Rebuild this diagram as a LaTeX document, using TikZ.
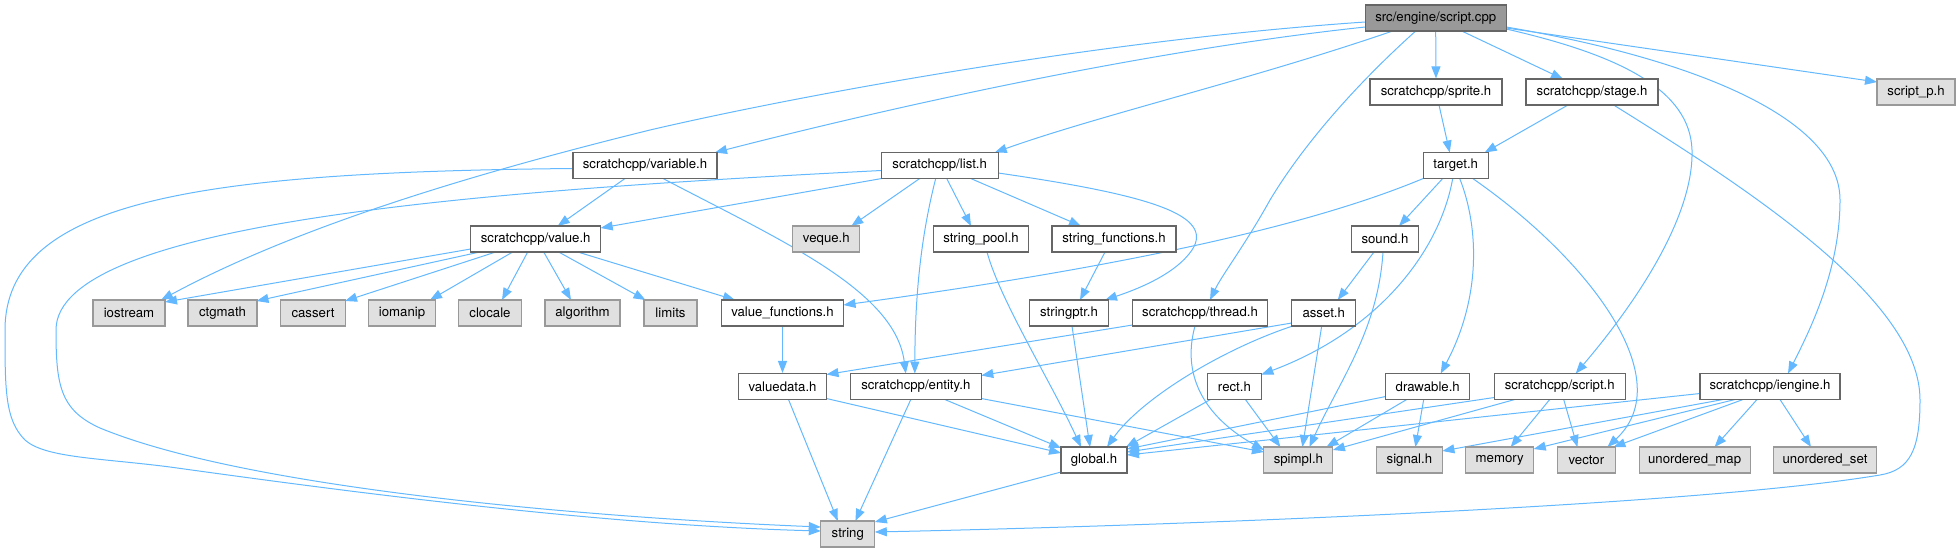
\documentclass[tikz,border=0pt]{standalone}
\usepackage{fontspec}
\setmainfont{TeX Gyre Heros}
\usetikzlibrary{arrows.meta}
\definecolor{edgec}{HTML}{63B8FF}
\definecolor{boxd}{HTML}{666666}
\definecolor{extd}{HTML}{999999}
\definecolor{extf}{HTML}{E0E0E0}
\definecolor{mainf}{HTML}{999999}
\pgfdeclarelayer{bg}
\pgfsetlayers{bg,main}
\tikzset{
  hbox/.style={draw=boxd, fill=white, line width=1.1pt, minimum height=26pt, inner sep=0pt, font=\fontsize{13.2}{15}\selectfont},
  extbox/.style={hbox, draw=extd, fill=extf},
  mainbox/.style={hbox, draw=boxd, fill=mainf},
  e/.style={draw=edgec, line width=1pt, -{Triangle[length=12pt,width=9pt]}}
}
\begin{document}
\begin{tikzpicture}[x=1pt,y=-1pt]
\useasboundingbox (0,0) rectangle (1960,552);
% row 1
\node[mainbox, minimum width=141pt] (sc) at (1435.7,18) {src/engine/script.cpp};
% row 2
\node[hbox, minimum width=132pt] (sprite) at (1436,92) {scratchcpp/sprite.h};
\node[hbox, minimum width=132pt] (stage) at (1592,92) {scratchcpp/stage.h};
\node[extbox, minimum width=78pt] (scriptp) at (1916,92) {script\_p.h};
% row 3
\node[hbox, minimum width=144pt] (variable) at (645,165.5) {scratchcpp/variable.h};
\node[hbox, minimum width=117pt] (list) at (939.7,165.5) {scratchcpp/list.h};
\node[hbox, minimum width=65pt] (target) at (1455.7,165.5) {target.h};
% row 4
\node[hbox, minimum width=130pt] (value) at (535.7,239) {scratchcpp/value.h};
\node[extbox, minimum width=67pt] (veque) at (826.3,239) {veque.h};
\node[hbox, minimum width=95pt] (spool) at (981,239) {string\_pool.h};
\node[hbox, minimum width=124pt] (sfunc) at (1114,239) {string\_functions.h};
\node[hbox, minimum width=67pt] (sound) at (1385,239) {sound.h};
% row 5
\node[extbox, minimum width=72pt] (iostream) at (129,313) {iostream};
\node[extbox, minimum width=69pt] (ctgmath) at (222.5,313) {ctgmath};
\node[extbox, minimum width=65pt] (cassert) at (313,313) {cassert};
\node[extbox, minimum width=67pt] (iomanip) at (402,313) {iomanip};
\node[extbox, minimum width=63pt] (clocale) at (490,313) {clocale};
\node[extbox, minimum width=75pt] (algorithm) at (582.5,313) {algorithm};
\node[extbox, minimum width=53pt] (limits) at (670.5,313) {limits};
\node[hbox, minimum width=122pt] (vfunc) at (782.5,313) {value\_functions.h};
\node[hbox, minimum width=79pt] (sptr) at (1069,313) {stringptr.h};
\node[hbox, minimum width=135pt] (thread) at (1200,313) {scratchcpp/thread.h};
\node[hbox, minimum width=64pt] (asset) at (1323.7,313) {asset.h};
% row 6
\node[hbox, minimum width=88pt] (vdata) at (782.5,386.5) {valuedata.h};
\node[hbox, minimum width=131pt] (entity) at (915.8,386.5) {scratchcpp/entity.h};
\node[hbox, minimum width=54pt] (rect) at (1234.4,386.5) {rect.h};
\node[hbox, minimum width=84pt] (drawable) at (1427.7,386.5) {drawable.h};
\node[hbox, minimum width=131pt] (scripth) at (1559.7,386.5) {scratchcpp/script.h};
\node[hbox, minimum width=140pt] (iengine) at (1770,386.5) {scratchcpp/iengine.h};
% row 7
\node[hbox, minimum width=66pt] (global) at (1094,460) {global.h};
\node[extbox, minimum width=69pt] (spimpl) at (1298.4,460) {spimpl.h};
\node[extbox, minimum width=66pt] (signal) at (1409.4,460) {signal.h};
\node[extbox, minimum width=68pt] (memory) at (1499.7,460) {memory};
\node[extbox, minimum width=58pt] (vector) at (1586.4,460) {vector};
\node[extbox, minimum width=111pt] (umap) at (1694.6,460) {unordered\_map};
\node[extbox, minimum width=103pt] (uset) at (1825,460) {unordered\_set};
% row 8
\node[extbox, minimum width=54pt] (string) at (847.8,534) {string};

\begin{pgfonlayer}{bg}
% script.cpp
\draw[e] (sc.south) -- (sprite.north);
\draw[e] ([shift={(26,13)}]sc.center) -- ([shift={(-29,-13)}]stage.center);
\draw[e] ([shift={(70.5,10)}]sc.center) -- ([shift={(-39,-10)}]scriptp.center);
\draw[e] ([shift={(70.5,11)}]sc.center) .. controls (1620,55) and (1690,90) .. (1692,150) .. controls (1694,220) and (1630,310) .. ([shift={(16,-13)}]scripth.center);
\draw[e] ([shift={(70.5,9)}]sc.center) .. controls (1700,60) and (1840,120) .. (1840,200) .. controls (1840,270) and (1810,330) .. ([shift={(18,-13)}]iengine.center);
\draw[e] ([shift={(-20,13)}]sc.center) .. controls (1350,90) and (1300,150) .. (1270,200) .. controls (1245,245) and (1222,275) .. ([shift={(10,-13)}]thread.center);
\draw[e] ([shift={(-43,13)}]sc.center) .. controls (1250,80) and (1100,115) .. ([shift={(55,-13)}]list.center);
\draw[e] ([shift={(-70.5,9)}]sc.center) .. controls (1150,50) and (900,105) .. ([shift={(70,-13)}]variable.center);
\draw[e] ([shift={(-70.5,4)}]sc.center) .. controls (1100,40) and (800,95) .. (650,130) .. controls (480,172) and (300,225) .. ([shift={(32,-13)}]iostream.center);
% variable.h
\draw[e] ([shift={(-72,3)}]variable.center) .. controls (200,172) and (5,200) .. (5,330) .. controls (5,390) and (5,420) .. (25,440) .. controls (45,458) and (100,458) .. (170,467) .. controls (350,492) and (600,525) .. ([shift={(-27,-3)}]string.center);
\draw[e] ([shift={(-20,13)}]variable.center) -- ([shift={(22,-13)}]value.center);
\draw[e] ([shift={(18,13)}]variable.center) .. controls (780,240) and (895,290) .. ([shift={(-10,-13)}]entity.center);
% list.h
\draw[e] ([shift={(-58.5,5)}]list.center) .. controls (500,190) and (56,220) .. (56,330) .. controls (56,385) and (60,410) .. (100,428) .. controls (250,490) and (600,518) .. ([shift={(-27,-7)}]string.center);
\draw[e] ([shift={(-58,13)}]list.center) -- ([shift={(65,-11)}]value.center);
\draw[e] ([shift={(-20,13)}]list.center) -- ([shift={(25,-13)}]veque.center);
\draw[e] ([shift={(7,13)}]list.center) -- ([shift={(-10,-13)}]spool.center);
\draw[e] ([shift={(31,13)}]list.center) -- ([shift={(-33,-13)}]sfunc.center);
\draw[e] ([shift={(-4,13)}]list.center) .. controls (920,240) and (915,300) .. ([shift={(-1,-13)}]entity.center);
\draw[e] ([shift={(58.5,7.5)}]list.center) .. controls (1150,195) and (1215,215) .. (1192,250) .. controls (1175,275) and (1135,290) .. ([shift={(36,-13)}]sptr.center);
% value.h
\draw[e] ([shift={(-65,10)}]value.center) -- ([shift={(36,-11)}]iostream.center);
\draw[e] ([shift={(-56,13)}]value.center) -- ([shift={(34,-12)}]ctgmath.center);
\draw[e] ([shift={(-40,13)}]value.center) -- ([shift={(32,-12)}]cassert.center);
\draw[e] ([shift={(-23,13)}]value.center) -- ([shift={(28,-13)}]iomanip.center);
\draw[e] ([shift={(-8,13)}]value.center) -- ([shift={(12,-13)}]clocale.center);
\draw[e] ([shift={(8,13)}]value.center) -- ([shift={(-11.5,-13)}]algorithm.center);
\draw[e] ([shift={(23,13)}]value.center) -- ([shift={(-25,-13)}]limits.center);
\draw[e] ([shift={(42,13)}]value.center) -- ([shift={(-47.5,-13)}]vfunc.center);
\draw[e] (vfunc.south) -- (vdata.north);
% sprite / stage / target
\draw[e] ([shift={(3,13)}]sprite.center) -- ([shift={(-6,-13)}]target.center);
\draw[e] ([shift={(-24,13)}]stage.center) -- ([shift={(29,-13)}]target.center);
\draw[e] ([shift={(21.6,13)}]stage.center) .. controls (1750,190) and (1920,300) .. (1920,400) .. controls (1920,450) and (1910,470) .. (1880,475) .. controls (1700,505) and (1200,525) .. ([shift={(27,-2)}]string.center);
\draw[e] ([shift={(-32.5,13)}]target.center) .. controls (1300,230) and (1100,270) .. ([shift={(61,-8)}]vfunc.center);
\draw[e] ([shift={(-13,13)}]target.center) -- ([shift={(14,-13)}]sound.center);
\draw[e] ([shift={(-3,13)}]target.center) .. controls (1440,250) and (1380,330) .. ([shift={(27,-12)}]rect.center);
\draw[e] ([shift={(4,13)}]target.center) .. controls (1480,230) and (1480,300) .. ([shift={(13,-13)}]drawable.center);
\draw[e] ([shift={(17,13)}]target.center) .. controls (1590,260) and (1680,380) .. ([shift={(21,-13)}]vector.center);
% sound / asset
\draw[e] ([shift={(-11,13)}]sound.center) -- ([shift={(14,-13)}]asset.center);
\draw[e] ([shift={(-2,13)}]sound.center) .. controls (1378,330) and (1340,380) .. ([shift={(11,-13)}]spimpl.center);
\draw[e] ([shift={(-32,10)}]asset.center) -- ([shift={(65.5,-11)}]entity.center);
\draw[e] ([shift={(-31,13)}]asset.center) .. controls (1220,350) and (1140,400) .. ([shift={(13,-13)}]global.center);
\draw[e] ([shift={(-2,13)}]asset.center) -- ([shift={(4,-13)}]spimpl.center);
% thread
\draw[e] ([shift={(-67.5,12)}]thread.center) -- ([shift={(44,-12)}]vdata.center);
\draw[e] ([shift={(-5,13)}]thread.center) .. controls (1180,380) and (1210,420) .. ([shift={(-34.5,-10)}]spimpl.center);
% string helpers
\draw[e] ([shift={(3,13)}]sptr.center) -- ([shift={(-4,-13)}]global.center);
\draw[e] ([shift={(6,13)}]spool.center) .. controls (1000,300) and (1050,380) .. ([shift={(-13,-13)}]global.center);
\draw[e] ([shift={(-9,13)}]sfunc.center) -- ([shift={(11,-13)}]sptr.center);
% valuedata / entity / global
\draw[e] ([shift={(44,12)}]vdata.center) -- ([shift={(-33,-7)}]global.center);
\draw[e] ([shift={(6,13)}]vdata.center) -- ([shift={(-10,-13)}]string.center);
\draw[e] ([shift={(29,13)}]entity.center) -- ([shift={(-33,-12)}]global.center);
\draw[e] ([shift={(65.5,12)}]entity.center) -- ([shift={(-34.5,-8)}]spimpl.center);
\draw[e] ([shift={(-5,13)}]entity.center) -- ([shift={(7.6,-13)}]string.center);
\draw[e] ([shift={(-33,12)}]global.center) -- ([shift={(27,-12)}]string.center);
% rect / drawable
\draw[e] ([shift={(-24,13)}]rect.center) -- ([shift={(32,-13)}]global.center);
\draw[e] ([shift={(11,13)}]rect.center) -- ([shift={(-18,-13)}]spimpl.center);
\draw[e] ([shift={(-42,10)}]drawable.center) -- ([shift={(33,-11)}]global.center);
\draw[e] ([shift={(-21,13)}]drawable.center) -- ([shift={(28,-13)}]spimpl.center);
\draw[e] ([shift={(-4,13)}]drawable.center) -- ([shift={(6,-13)}]signal.center);
% script.h
\draw[e] ([shift={(-65.5,11)}]scripth.center) -- ([shift={(33,-8)}]global.center);
\draw[e] ([shift={(-45,13)}]scripth.center) -- ([shift={(34.5,-10)}]spimpl.center);
\draw[e] ([shift={(-10,13)}]scripth.center) -- ([shift={(11,-13)}]memory.center);
\draw[e] ([shift={(4,13)}]scripth.center) -- ([shift={(-9,-13)}]vector.center);
% iengine.h
\draw[e] ([shift={(-70,7)}]iengine.center) -- ([shift={(33,-5)}]global.center);
\draw[e] ([shift={(-47,13)}]iengine.center) -- ([shift={(33,-9)}]signal.center);
\draw[e] ([shift={(-35,13)}]iengine.center) -- ([shift={(34,-11)}]memory.center);
\draw[e] ([shift={(-27,13)}]iengine.center) -- ([shift={(27,-13)}]vector.center);
\draw[e] ([shift={(-13,13)}]iengine.center) -- ([shift={(20,-13)}]umap.center);
\draw[e] ([shift={(10,13)}]iengine.center) -- ([shift={(-14,-13)}]uset.center);
\end{pgfonlayer}
\end{tikzpicture}
\end{document}
